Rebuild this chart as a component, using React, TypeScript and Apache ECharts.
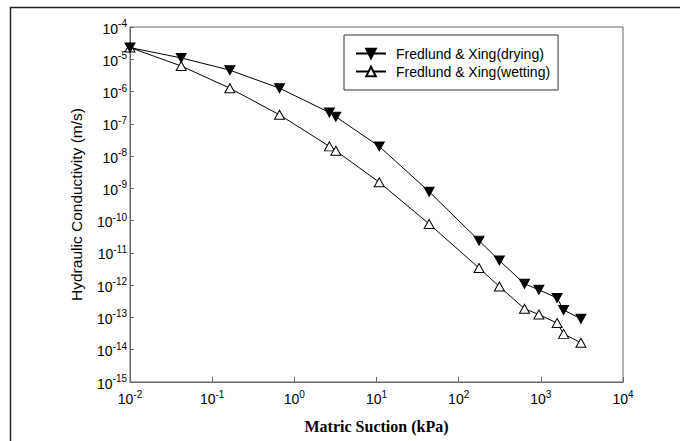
import React, { useEffect, useRef } from "react";
import * as echarts from "echarts";

// Matric suction (kPa)
const suction = [0.01, 0.042, 0.164, 0.66, 2.67, 3.2, 10.8, 43.7, 177, 313, 633, 947, 1578, 1893, 3077];
// Hydraulic conductivity (m/s)
const dryingK = [2.3e-5, 1.1e-5, 4.6e-6, 1.27e-6, 2.24e-7, 1.65e-7, 2.0e-8, 7.9e-10, 2.4e-11, 5.8e-12, 1.1e-12, 7.2e-13, 4.0e-13, 1.7e-13, 9.1e-14];
const wettingK = [2.3e-5, 6.2e-6, 1.27e-6, 1.9e-7, 2.0e-8, 1.46e-8, 1.55e-9, 7.9e-11, 3.4e-12, 9.1e-13, 1.86e-13, 1.23e-13, 6.7e-14, 3.1e-14, 1.65e-14];
const seriesNames = ["Fredlund & Xing(drying)", "Fredlund & Xing(wetting)"];
const xTitle = "Matric Suction (kPa)";
const yTitle = "Hydraulic Conductivity (m/s)";

const SANS = "'Liberation Sans', Arial, sans-serif";
const SERIF = "'Liberation Serif', 'Times New Roman', serif";

function powLabel(v: number) {
  const e = Math.round(Math.log10(v));
  return "{b|10}{s|" + e + "}";
}

const richLabel = {
  b: { fontSize: 14, fontFamily: SANS, color: "#000", verticalAlign: "bottom", lineHeight: 17 },
  s: { fontSize: 10, fontFamily: SANS, color: "#000", verticalAlign: "top", lineHeight: 17 },
};

export default function App() {
  const ref = useRef<HTMLDivElement>(null);
  useEffect(() => {
    if (!ref.current) return;
    const chart = echarts.init(ref.current, undefined, { renderer: "svg" });
    const option: any = {
      animation: false,
      backgroundColor: "#fff",
      grid: {
        left: 130,
        top: 27,
        width: 493,
        height: 355,
        show: true,
        borderColor: "#666",
        borderWidth: 1,
        backgroundColor: "transparent",
      },
      legend: {
        left: 344,
        top: 35,
        orient: "vertical",
        backgroundColor: "#fff",
        borderColor: "#333",
        borderWidth: 1,
        borderRadius: 0,
        padding: [11, 8, 11, 11],
        itemWidth: 30,
        itemHeight: 12,
        itemGap: 3,
        textStyle: { fontSize: 14, fontFamily: SANS, color: "#000", lineHeight: 15, padding: [0, 0, 0, 5] },
        data: seriesNames,
      },
      xAxis: {
        type: "log",
        logBase: 10,
        min: 0.01,
        max: 10000,
        splitNumber: 6,
        interval: 1,
        name: xTitle,
        nameLocation: "middle",
        nameGap: 36,
        nameTextStyle: { fontSize: 16, fontFamily: SERIF, fontWeight: "bold", color: "#000" },
        axisLine: { show: true, lineStyle: { color: "#666", width: 1 } },
        axisTick: { show: true, inside: true, length: 5, lineStyle: { color: "#666" } },
        minorTick: { show: false },
        splitLine: { show: false },
        axisLabel: { margin: 7, formatter: powLabel, rich: richLabel },
      },
      yAxis: {
        type: "log",
        logBase: 10,
        min: 1e-15,
        max: 1e-4,
        splitNumber: 11,
        interval: 1,
        name: yTitle,
        nameLocation: "middle",
        nameGap: 46,
        nameRotate: 90,
        nameTextStyle: { fontSize: 15.5, fontFamily: SANS, color: "#000" },
        axisLine: { show: true, lineStyle: { color: "#666", width: 1 } },
        axisTick: { show: true, inside: true, length: 4, lineStyle: { color: "#666" } },
        minorTick: { show: false },
        splitLine: { show: false },
        axisLabel: { margin: 3, formatter: powLabel, rich: richLabel },
      },
      series: [
        {
          name: seriesNames[0],
          type: "line",
          data: suction.map((x, i) => [x, dryingK[i]]),
          symbol: "triangle",
          symbolRotate: 180,
          symbolSize: [10, 9],
          showAllSymbol: true,
          lineStyle: { color: "#000", width: 1 },
          itemStyle: { color: "#000", borderColor: "#000", borderWidth: 1 },
          z: 3,
        },
        {
          name: seriesNames[1],
          type: "line",
          data: suction.map((x, i) => [x, wettingK[i]]),
          symbol: "triangle",
          symbolSize: [10, 9],
          showAllSymbol: true,
          lineStyle: { color: "#000", width: 1 },
          itemStyle: { color: "#fff", borderColor: "#000", borderWidth: 1 },
          z: 2,
        },
      ],
      graphic: [
        { type: "line", shape: { x1: 10, y1: 7.5, x2: 680, y2: 7.5 }, style: { stroke: "#222", lineWidth: 1.5 } },
        { type: "line", shape: { x1: 10.5, y1: 7, x2: 10.5, y2: 441 }, style: { stroke: "#222", lineWidth: 1.5 } },
      ],
    };
    chart.setOption(option);
    return () => chart.dispose();
  }, []);
  return (
    <div
      ref={ref}
      style={{ position: "fixed", left: 0, top: 0, width: 680, height: 441, background: "#fff" }}
    />
  );
}
